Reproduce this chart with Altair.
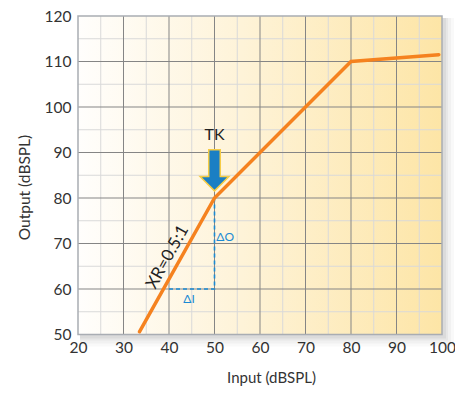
import altair as alt
import pandas as pd

# data
x_in = [33.5, 50, 80, 99.3]
y_out = [50.6, 80, 110, 111.5]
x_major = [20, 30, 40, 50, 60, 70, 80, 90, 100]
y_major = [50, 60, 70, 80, 90, 100, 110, 120]
x_minor = [25, 35, 45, 55, 65, 75, 85, 95]
y_minor = [55, 65, 75, 85, 95, 105, 115]
dash_x = [40, 50, 50]
dash_y = [60, 60, 80]
frame = pd.DataFrame({"x": [20], "x2": [100], "y": [50], "y2": [120]})

xs = alt.Scale(domain=[20, 100], nice=False, zero=False)
ys = alt.Scale(domain=[50, 120], nice=False, zero=False)
FONT = "Lato"

xaxis = alt.Axis(values=x_major, title="Input (dBSPL)", grid=False, ticks=False, domain=False,
                 labelFontSize=15.5, labelColor="#333", labelPadding=6, labelFont=FONT, labelFlush=False,
                 titleFont=FONT, titleFontSize=15, titleFontWeight="normal", titleColor="#333",
                 titleX=193, titleY=36)
yaxis = alt.Axis(values=y_major, title="Output (dBSPL)", grid=False, ticks=False, domain=False,
                 labelFontSize=15.5, labelColor="#333", labelPadding=7, labelFont=FONT, labelFlush=False,
                 titleFont=FONT, titleFontSize=15.5, titleFontWeight="normal", titleColor="#333",
                 titleX=-46, titleY=171)


def X(f):
    return alt.X(f, scale=xs, axis=xaxis)


def Y(f):
    return alt.Y(f, scale=ys, axis=yaxis)


base = alt.Chart(frame)

shadows = [
    base.mark_rect(fill="#000", opacity=op, xOffset=dx, x2Offset=dx + grow,
                   yOffset=dx + grow, y2Offset=dx).encode(x=X("x:Q"), x2="x2", y=Y("y:Q"), y2="y2")
    for dx, grow, op in [(2, 10, 0.025), (2, 7, 0.03), (2, 4, 0.04), (2, 2, 0.05)]
]

bg = base.mark_rect(
    fill=alt.Gradient(gradient="linear", x1=0, x2=1, y1=0, y2=0,
                      stops=[alt.GradientStop(color="#fffefc", offset=0),
                             alt.GradientStop(color="#fef3d8", offset=0.45),
                             alt.GradientStop(color="#fde5a6", offset=1)])
).encode(x=X("x:Q"), x2="x2", y=Y("y:Q"), y2="y2")

vminor = alt.Chart(pd.DataFrame({"x": x_minor})).mark_rule(color="#d9d9d9", strokeWidth=1).encode(x=X("x:Q"))
hminor = alt.Chart(pd.DataFrame({"y": y_minor})).mark_rule(color="#d9d9d9", strokeWidth=1).encode(y=Y("y:Q"))
vmajor = alt.Chart(pd.DataFrame({"x": x_major[1:-1]})).mark_rule(color="#858585", strokeWidth=1).encode(x=X("x:Q"))
hmajor = alt.Chart(pd.DataFrame({"y": y_major[1:-1]})).mark_rule(color="#858585", strokeWidth=1).encode(y=Y("y:Q"))

border = base.mark_rect(fill=None, fillOpacity=0, stroke="#a9adb3", strokeWidth=1.5).encode(
    x=X("x:Q"), x2="x2", y=Y("y:Q"), y2="y2")

curve = alt.Chart(pd.DataFrame({"x": x_in, "y": y_out})).mark_line(
    color="#f5821f", strokeWidth=3.5, strokeCap="round", strokeJoin="miter").encode(x=X("x:Q"), y=Y("y:Q"))

dashed = alt.Chart(pd.DataFrame({"x": dash_x, "y": dash_y, "o": [0, 1, 2]})).mark_line(
    color="#1a8ad4", strokeWidth=1.6, strokeDash=[4, 3]).encode(x=X("x:Q"), y=Y("y:Q"), order="o:Q")

arrow_path = "M-0.28,-1 L0.28,-1 L0.28,0.3 L0.7,0.3 L0,1 L-0.7,0.3 L-0.28,0.3 Z"
arrow = alt.Chart(pd.DataFrame({"x": [50], "y": [86.1]})).mark_point(
    shape=arrow_path, size=1700, filled=True, fill="#1a7fc4", stroke="#f6cc45",
    strokeWidth=1.5, opacity=1).encode(x=X("x:Q"), y=Y("y:Q"))

tk = alt.Chart(pd.DataFrame({"x": [50], "y": [93.9], "t": ["TK"]})).mark_text(
    font=FONT, fontSize=16, color="#222", align="center", baseline="middle").encode(
    x=X("x:Q"), y=Y("y:Q"), text="t:N")
d_o = alt.Chart(pd.DataFrame({"x": [50.4], "y": [71.5], "t": ["ΔO"]})).mark_text(
    font=FONT, fontSize=12, color="#1a8ad4", align="left", baseline="middle").encode(
    x=X("x:Q"), y=Y("y:Q"), text="t:N")
d_i = alt.Chart(pd.DataFrame({"x": [44.4], "y": [57.8], "t": ["ΔI"]})).mark_text(
    font=FONT, fontSize=12, color="#1a8ad4", align="center", baseline="middle").encode(
    x=X("x:Q"), y=Y("y:Q"), text="t:N")
xr = alt.Chart(pd.DataFrame({"x": [39.7], "y": [67.0], "t": ["XR=0.5:1"]})).mark_text(
    font=FONT, fontSize=17, color="#222", align="center", baseline="middle", angle=299).encode(
    x=X("x:Q"), y=Y("y:Q"), text="t:N")

chart = alt.layer(*shadows, bg, vminor, hminor, vmajor, hmajor, border, dashed, curve, arrow,
                  tk, d_o, d_i, xr).properties(
    width=364, height=318.5, autosize="none",
    padding={"left": 70, "top": 8, "right": 13, "bottom": 55},
).configure_view(stroke=None)

chart.save("out.html", embed_options={"renderer": "svg", "actions": False})
